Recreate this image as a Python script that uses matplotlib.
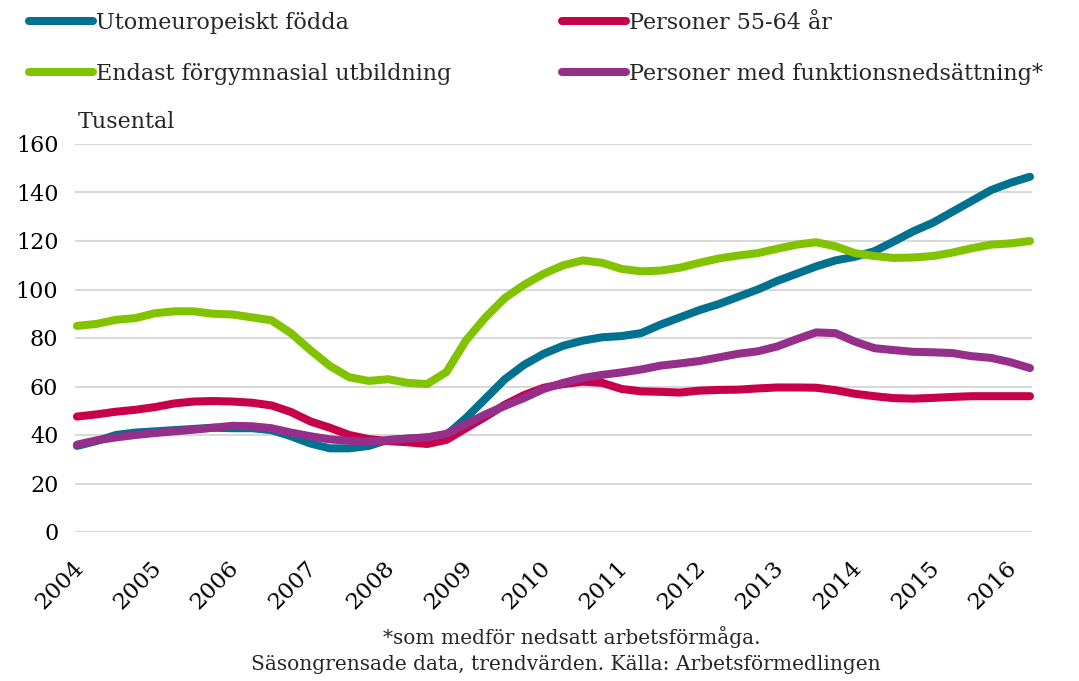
import matplotlib
matplotlib.use("Agg")
import matplotlib.pyplot as plt
import matplotlib.transforms as mtransforms
from matplotlib.lines import Line2D
import numpy as np

plt.rcParams['font.family'] = ['DejaVu Serif']
plt.rcParams['text.color'] = '#262626'

# quarterly readings, 2004 Q1 .. 2016 Q2 (tusental)
years = np.arange(50) / 4 + 2004

utomeuropeiskt = [35.5, 37.5, 40, 41, 41.5, 42, 42.5, 43, 42.8, 42.8, 42, 39.5,
                  36.5, 34.5, 34.5, 35.5, 38, 38.5, 39, 40, 47, 55, 63, 69,
                  73.5, 76.8, 78.9, 80.3, 80.8, 82, 85.5, 88.5, 91.5, 94, 97, 100,
                  103.5, 106.5, 109.5, 112, 113.5, 115.8, 119.8, 124, 127.5, 132, 136.5, 141,
                  144, 146.5]
personer_55_64 = [47.6, 48.5, 49.6, 50.4, 51.5, 53, 53.8, 54, 53.8, 53.3, 52.2, 49.5,
                  45.6, 43, 40, 38.3, 37.5, 37, 36.3, 38, 42.8, 47.5, 52.5, 56.5,
                  59.5, 61, 62, 61.5, 59, 58, 57.8, 57.5, 58.3, 58.6, 58.7, 59.2,
                  59.6, 59.6, 59.5, 58.5, 57, 56, 55.2, 55, 55.3, 55.7, 56, 56,
                  56, 56]
forgymnasial = [85, 85.8, 87.5, 88.2, 90.2, 91, 91, 90, 89.7, 88.5, 87.3, 82,
                75, 68.5, 63.8, 62.3, 63, 61.5, 61, 66, 79, 88.5, 96.5, 102,
                106.5, 110, 112, 111, 108.5, 107.5, 107.8, 109, 111, 112.8, 114, 115,
                116.8, 118.5, 119.5, 117.8, 115, 113.8, 113, 113.2, 113.8, 115.2, 117, 118.5,
                119, 120]
funktionsnedsattning = [36, 37.8, 39, 40, 40.8, 41.5, 42.2, 43, 43.8, 43.6, 42.8, 41,
                        39.5, 38.2, 37.6, 37.3, 37.8, 38.5, 39, 40.5, 44.5, 48.5, 52, 55.3,
                        59, 61.5, 63.5, 64.8, 65.8, 67, 68.6, 69.5, 70.5, 72, 73.5, 74.5,
                        76.5, 79.5, 82.3, 82, 78.5, 75.8, 75, 74.3, 74.1, 73.8, 72.5, 71.8,
                        70, 67.6]
year_ticks = list(range(2004, 2017))

series = [
    ("Utomeuropeiskt födda", utomeuropeiskt, "#00728f"),
    ("Personer 55-64 år", personer_55_64, "#c8004b"),
    ("Endast förgymnasial utbildning", forgymnasial, "#82c300"),
    ("Personer med funktionsnedsättning*", funktionsnedsattning, "#952f8a"),
]

W, H = 1079, 681
fig = plt.figure(figsize=(W / 100, H / 100), dpi=100)
ax = fig.add_axes([75 / W, 1 - 532 / H, (1032 - 75) / W, (532 - 144) / H])

for name, vals, col in series:
    ax.plot(years, vals, color=col, lw=5.8, solid_capstyle='round',
            solid_joinstyle='round', clip_on=False)

ax.set_ylim(0, 160)
ax.set_xlim(2004 - 2 / 77.8, 2016.25 + 2 / 77.8)
ax.set_yticks(range(0, 161, 20))
ax.set_xticks(year_ticks)
ax.set_xticklabels([str(y) for y in year_ticks], rotation=45, ha='right',
                   rotation_mode='default', fontsize=16.5)
ax.grid(axis='y', color='#d9d9d9', lw=1.5)
ax.set_axisbelow(True)
for s in ax.spines.values():
    s.set_visible(False)
ax.tick_params(length=0)
ax.tick_params(axis='y', pad=12, labelsize=16)
ax.tick_params(axis='x', pad=18)
off = mtransforms.ScaledTranslation(11 / 100, 0, fig.dpi_scale_trans)
for lab in ax.get_xticklabels():
    lab.set_transform(lab.get_transform() + off)

fig.text(78 / W, 1 - 122 / H, "Tusental", fontsize=16, va='center', ha='left')

# legend in two columns
cols = [(series[0], series[2]), (series[1], series[3])]
xs = [29, 562]
for (a, b), x0 in zip(cols, xs):
    hs = [Line2D([], [], color=c, lw=5.8, solid_capstyle='round') for _, _, c in (a, b)]
    fig.legend(hs, [a[0], b[0]], loc='upper left',
               bbox_to_anchor=(x0 / W, 1 - 12 / H), frameon=False,
               fontsize=16, handlelength=2.9, handletextpad=0.12,
               labelspacing=1.3, borderpad=0, borderaxespad=0)

fig.text(572 / W, 1 - 637 / H, "*som medför nedsatt arbetsförmåga.",
         fontsize=14.5, ha='center', va='center')
fig.text(566 / W, 1 - 665 / H,
         "Säsongrensade data, trendvärden. Källa: Arbetsförmedlingen",
         fontsize=14.5, ha='center', va='center')

fig.savefig("out.png", dpi=100)
